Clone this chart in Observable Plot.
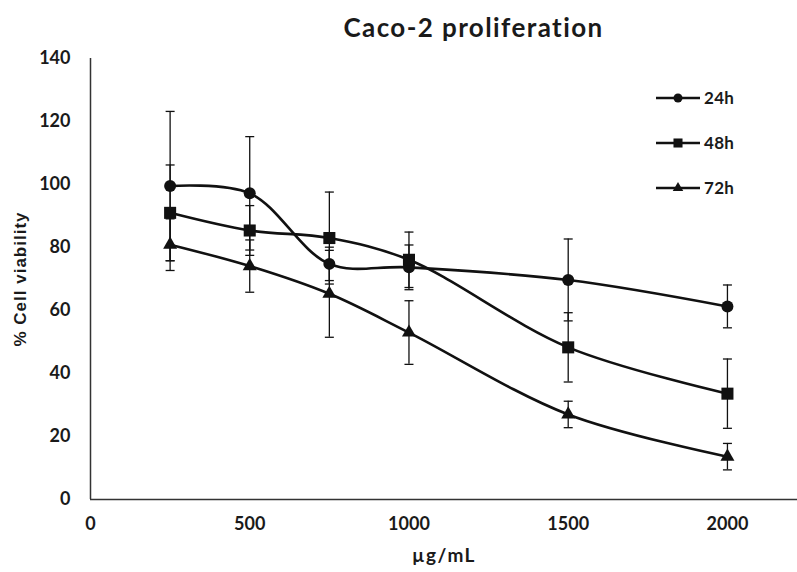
<!DOCTYPE html>
<html>
<head>
<meta charset="utf-8">
<script src="https://cdn.jsdelivr.net/npm/d3@7"></script>
<script src="https://cdn.jsdelivr.net/npm/@observablehq/plot@0.6"></script>
<style>
  html, body { margin: 0; padding: 0; background: #fff; }
  #wrap { position: relative; width: 797px; height: 572px; font-family: Lato, "Open Sans", sans-serif; color: #1a1a1a; }
  #title { position: absolute; left: 0; top: 0; width: 797px; height: 50px; box-sizing: border-box; padding-left: 150px; padding-top: 12px; text-align: center; font-size: 26px; letter-spacing: 1.4px; font-weight: bold; line-height: 30px; }
  #legend { position: absolute; left: 655px; top: 75px; }
  .lrow { display: flex; align-items: center; height: 45px; }
  .lrow span { font-size: 17px; font-weight: bold; margin-left: 3px; letter-spacing: 0.3px; }
</style>
</head>
<body>
<div id="wrap">
  <div id="chart"></div>
  <div id="title">Caco-2 proliferation</div>
  <div id="legend"></div>
</div>
<script>
// ---- data ----
const doses = [250, 500, 750, 1000, 1500, 2000];
const seriesNames = ["24h", "48h", "72h"];
const values24 = [99.5, 97.2, 74.8, 73.7, 69.7, 61.3];
const errors24 = [23.7, 18.0, 5.3, 7.1, 13.0, 6.8];
const values48 = [91.0, 85.4, 83.0, 76.1, 48.3, 33.6];
const errors48 = [15.2, 7.9, 14.6, 8.8, 11.0, 11.0];
const values72 = [80.9, 74.1, 65.3, 53.0, 27.0, 13.6];
const errors72 = [8.2, 8.3, 13.8, 10.1, 4.2, 4.2];
const xTicks = [0, 500, 1000, 1500, 2000];
const yTicks = [0, 20, 40, 60, 80, 100, 120, 140];
const xLabel = "µg/mL";
const yLabel = "% Cell viability";

const valueSets = [values24, values48, values72];
const errorSets = [errors24, errors48, errors72];
const symbols = {"24h": "circle", "48h": "square", "72h": "triangle"};
const sizes = {"24h": 6, "48h": 6.8, "72h": 5.2};

const rows = [];
seriesNames.forEach((s, i) => {
  doses.forEach((d, j) => {
    rows.push({series: s, dose: d, value: valueSets[i][j], err: errorSets[i][j]});
  });
});

// horizontal cap symbol for error bars
const capSymbol = {
  draw(ctx, size) {
    const r = Math.sqrt(size / Math.PI);
    ctx.moveTo(-r, 0);
    ctx.lineTo(r, 0);
  }
};

const ink = "#111";

const chart = Plot.plot({
  width: 797,
  height: 572,
  marginTop: 58,
  marginBottom: 73,
  marginLeft: 90,
  marginRight: 0,
  style: {fontFamily: "Lato, 'Open Sans', sans-serif", fontSize: "18px", fontWeight: "bold", color: "#1a1a1a", background: "white"},
  x: {domain: [0, 2220], ticks: xTicks, tickFormat: d => String(d), tickSize: 0, tickPadding: 18, label: xLabel, labelAnchor: "center", labelOffset: 62, labelArrow: "none"},
  y: {domain: [0, 140], ticks: yTicks, tickFormat: d => String(d), tickSize: 0, tickPadding: 20, label: yLabel, labelAnchor: "center", labelOffset: 77, labelArrow: "none"},
  marks: [
    Plot.ruleY([0], {stroke: "#333", strokeWidth: 1.5}),
    Plot.ruleX([0], {stroke: "#333", strokeWidth: 1.5}),
    Plot.ruleX(rows, {x: "dose", y1: d => d.value - d.err, y2: d => d.value + d.err, stroke: ink, strokeWidth: 1.3}),
    Plot.dot(rows, {x: "dose", y: d => d.value + d.err, symbol: capSymbol, r: 4.5, stroke: ink, strokeWidth: 1.3, fill: "none"}),
    Plot.dot(rows, {x: "dose", y: d => d.value - d.err, symbol: capSymbol, r: 4.5, stroke: ink, strokeWidth: 1.3, fill: "none"}),
    Plot.line(rows, {x: "dose", y: "value", z: "series", curve: "catmull-rom", stroke: ink, strokeWidth: 2.6}),
    ...seriesNames.map(s => Plot.dot(rows.filter(d => d.series === s), {x: "dose", y: "value", symbol: symbols[s], r: sizes[s], fill: ink, stroke: "none"}))
  ]
});
document.getElementById("chart").appendChild(chart);

// axis label styling
d3.select(chart).selectAll("text").each(function() {
  const t = this.textContent;
  if (t === yLabel) {
    d3.select(this).style("font-family", "'Liberation Sans', Arial, sans-serif").style("font-size", "17px").style("font-weight", "bold").style("letter-spacing", "1px");
  } else if (t === xLabel) {
    d3.select(this).style("font-size", "19px").style("font-weight", "bold").style("letter-spacing", "1.5px");
  }
});

// legend
const legend = document.getElementById("legend");
seriesNames.forEach(s => {
  const row = document.createElement("div");
  row.className = "lrow";
  const svg = d3.create("svg").attr("width", 46).attr("height", 20);
  svg.append("line").attr("x1", 1).attr("x2", 45).attr("y1", 10).attr("y2", 10).attr("stroke", ink).attr("stroke-width", 2.6);
  const sym = {circle: d3.symbolCircle, square: d3.symbolSquare, triangle: d3.symbolTriangle}[symbols[s]];
  const r = sizes[s] * 0.75;
  svg.append("path").attr("transform", "translate(23,10)").attr("d", d3.symbol(sym, Math.PI * r * r)()).attr("fill", ink);
  row.appendChild(svg.node());
  const t = document.createElement("span");
  t.textContent = s;
  row.appendChild(t);
  legend.appendChild(row);
});
</script>
</body>
</html>
